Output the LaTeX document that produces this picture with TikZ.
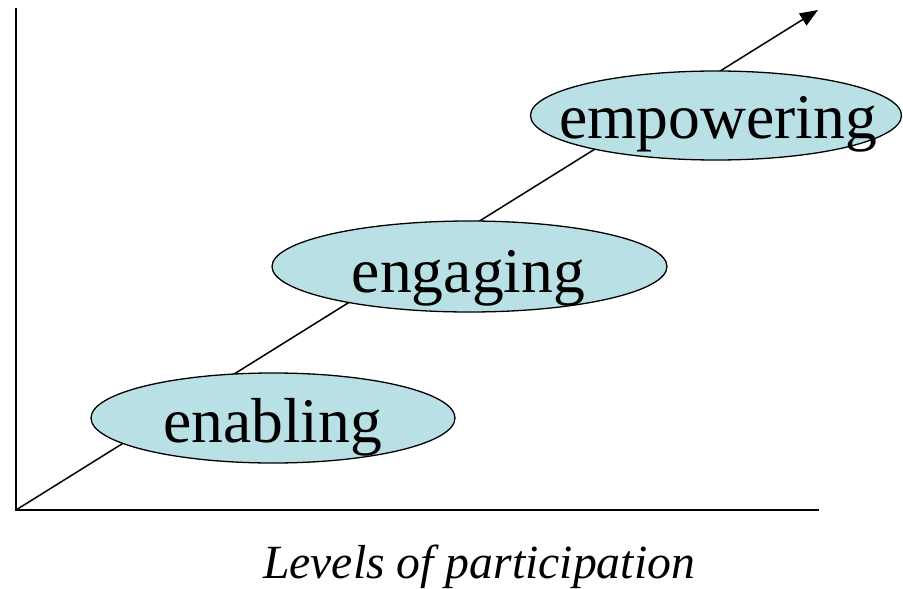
\documentclass[tikz,border=0pt]{standalone}
\usepackage{fontspec}
\setmainfont{Liberation Serif}
\usetikzlibrary{shapes.geometric,arrows.meta}
\definecolor{bubble}{RGB}{185,224,228}
\tikzset{
  bubble/.style={ellipse, draw=black, line width=1.3pt, fill=bubble, inner sep=0pt},
  word/.style={anchor=base, inner sep=0pt, font=\fontsize{63.6}{70}\selectfont},
  axis/.style={line width=2pt, line cap=rect},
}
\begin{document}
\begin{tikzpicture}[x=1pt,y=-1pt]
\useasboundingbox (0,0) rectangle (903,589);
\coordinate (O) at (16,510);
\coordinate (Ytop) at (16,9);
\coordinate (Xend) at (818,510);
\coordinate (A) at (818,10);
\draw[axis] (Ytop) -- (O) -- (Xend);
\draw[line width=1.5pt, -{Triangle[length=18pt,width=14pt]}] (O) -- (A);
\node[bubble, minimum width=364pt, minimum height=90pt] (enab) at (273,418) {};
\node[bubble, minimum width=395pt, minimum height=91pt] (enga) at (469.5,266.5) {};
\node[bubble, minimum width=371pt, minimum height=89pt] (empo) at (716,115.5) {};
\node[word] (tenab) at (272.5,442) {enabling};
\node[word] (tenga) at (468.5,292) {engaging};
\node[word] (tempo) at (718,138) {empowering};
\node[anchor=base, inner sep=0pt, font=\fontsize{47.7}{52}\selectfont\itshape] (cap) at (479,578) {Levels of participation};
\end{tikzpicture}
\end{document}
